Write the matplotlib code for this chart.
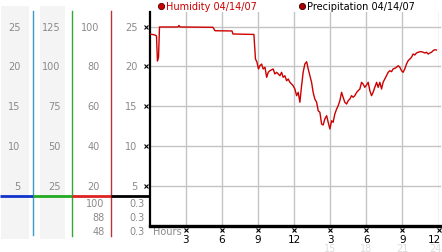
import matplotlib
matplotlib.use("Agg")
import matplotlib.pyplot as plt
from matplotlib.transforms import blended_transform_factory

# ---------------- data ----------------
hum_hours = [0.04, 0.46, 0.58, 0.66, 0.75, 0.83, 2.37, 2.45, 2.53, 5.27, 5.44, 6.85, 6.93, 8.67,
             8.80, 8.92, 9.05, 9.17, 9.31, 9.44, 9.59, 9.73, 9.86, 10.0, 10.27, 10.41, 10.56,
             10.83, 10.97, 11.10, 11.24, 11.39, 11.52, 11.66, 11.80, 11.93, 12.07, 12.22, 12.35,
             12.49, 12.63, 12.76, 12.90, 13.05, 13.18, 13.32, 13.46, 13.59, 13.73, 13.88, 14.01,
             14.15, 14.29, 14.42, 14.56, 14.71, 14.84, 14.98, 15.12, 15.25, 15.39, 15.54, 15.67,
             15.81, 15.95, 16.08, 16.22, 16.37, 16.50, 16.64, 16.78, 16.91, 17.05, 17.20, 17.33,
             17.47, 17.61, 17.74, 17.88, 18.02, 18.16, 18.30, 18.44, 18.57, 18.71, 18.86, 18.99,
             19.13, 19.27, 19.40, 19.54, 19.68, 19.82, 19.96, 20.10, 20.23, 20.37, 20.51, 20.65,
             20.79, 20.93, 21.06, 21.20, 21.34, 21.48, 21.62, 21.76, 21.89, 22.03, 22.17, 22.31,
             22.45, 22.59, 22.72, 22.86, 23.00, 23.14, 23.28, 23.42, 23.55, 23.69, 23.83]
hum_values = [24.09, 23.96, 23.84, 20.69, 21.19, 24.97, 24.97, 25.16, 24.97, 24.93, 24.50, 24.47, 24.09, 24.03,
              20.94, 20.57, 19.69, 20.10, 20.31, 19.69, 19.90, 18.64, 19.27, 19.47, 19.69, 19.06, 19.27,
              18.84, 19.27, 18.64, 18.84, 18.21, 18.43, 18.01, 17.80, 17.58, 17.17, 16.33, 16.75,
              15.50, 17.58, 19.27, 20.31, 20.60, 19.69, 18.84, 18.01, 16.75, 15.91, 15.50, 14.44,
              14.24, 12.77, 12.64, 13.40, 13.81, 12.98, 12.14, 13.18, 12.98, 14.03, 14.65, 15.07,
              15.70, 16.75, 16.13, 15.50, 15.28, 15.70, 15.91, 16.33, 16.13, 16.33, 16.75, 16.96,
              17.17, 18.01, 17.80, 17.38, 17.67, 18.01, 16.96, 16.33, 16.75, 17.38, 18.01, 17.38,
              18.01, 17.17, 18.01, 18.43, 18.84, 19.27, 19.47, 19.35, 19.69, 19.77, 19.90, 20.10,
              19.90, 19.47, 19.27, 19.69, 20.31, 20.73, 20.94, 21.16, 21.57, 21.45, 21.70, 21.79,
              21.86, 21.86, 21.79, 21.70, 21.79, 21.57, 21.70, 21.79, 21.99, 22.11, 22.08]

y_ticks = [5, 10, 15, 20, 25]
col1_labels = ["5", "10", "15", "20", "25"]
col2_labels = ["25", "50", "75", "100", "125"]
col3_labels = ["20", "40", "60", "80", "100"]
col4_labels = ["5", "10", "15", "20", "25"]
col3_extra = ["100", "88", "48"]
col4_extra = ["0.3", "0.3", "0.3"]

x_ticks = [3, 6, 9, 12, 15, 18, 21, 24]
x_labels = ["3", "6", "9", "12", "3", "6", "9", "12"]
x_labels2 = ["", "", "", "", "15", "18", "21", "24"]

legend_labels = ["Humidity 04/14/07", "Precipitation 04/14/07"]

# ---------------- figure ----------------
W, H = 442, 253
fig = plt.figure(figsize=(W / 100, H / 100), dpi=100)
fig.patch.set_facecolor("white")

# background pixel-space axes
bg = fig.add_axes([0, 0, 1, 1])
bg.set_xlim(0, W)
bg.set_ylim(H, 0)
bg.axis("off")

y0_pix, ytop_pix = 226.5, 13
x0_pix, x24_pix = 149.5, 438.5
ymax = (y0_pix - ytop_pix) / 7.95
ax = fig.add_axes([x0_pix / W, (H - y0_pix) / H, (x24_pix - x0_pix) / W, (y0_pix - ytop_pix) / H])
ax.set_xlim(0, 24)
ax.set_ylim(0, ymax)
ax.set_facecolor("none")
ax.patch.set_alpha(0)

# grid
for v in y_ticks:
    ax.axhline(v, color="#c4c4c4", lw=1.0, zorder=1, xmax=1.006, clip_on=False)
for h in x_ticks:
    ax.axvline(h, color="#c4c4c4", lw=1.0, zorder=1)

ax.plot(hum_hours, hum_values, color="#cc0000", lw=1.0, zorder=3)

for s in ["top", "right"]:
    ax.spines[s].set_visible(False)
ax.spines["left"].set_linewidth(1.6)
ax.spines["bottom"].set_linewidth(2.4)
ax.spines["bottom"].set_bounds(0, 24.1)
ax.set_xticks([])
ax.set_yticks([])

gray = "#8a8a8a"
fs = 7

# left panel gray bands
bg.add_patch(plt.Rectangle((1, 7), 28, 233, color="#f4f4f4", lw=0, zorder=0))
bg.add_patch(plt.Rectangle((40, 7), 25, 233, color="#f4f4f4", lw=0, zorder=0))

# vertical colored lines
bg.plot([33, 33], [12, 236], color="#3a9ac8", lw=1.0)
bg.plot([72, 72], [12, 237], color="#33a633", lw=1.0)
bg.plot([111, 111], [12, 237], color="#bb3333", lw=1.0)

# horizontal colored line
hy = 197
bg.plot([0, 33], [hy, hy], color="#1133cc", lw=2.0, solid_capstyle="butt")
bg.plot([33, 72], [hy, hy], color="#22aa22", lw=2.0, solid_capstyle="butt")
bg.plot([72, 111], [hy, hy], color="#dd2222", lw=2.0, solid_capstyle="butt")
bg.plot([111, 149], [hy, hy], color="black", lw=2.0, solid_capstyle="butt")

# left labels aligned with main y scale
tr = blended_transform_factory(bg.transData, ax.transData)
for v, a, b, c, d in zip(y_ticks, col1_labels, col2_labels, col3_labels, col4_labels):
    bg.text(20.5, v, a, transform=tr, ha="right", va="center", fontsize=fs, color=gray)
    bg.text(60.5, v, b, transform=tr, ha="right", va="center", fontsize=fs, color=gray)
    bg.text(99.5, v, c, transform=tr, ha="right", va="center", fontsize=fs, color=gray)
    bg.text(137.5, v, d, transform=tr, ha="right", va="center", fontsize=fs, color=gray)
    ax.plot([-0.27], [v], marker="x", ms=2.6, mew=0.8, color="black", clip_on=False)

for yy, a, b in zip([204, 218, 232], col3_extra, col4_extra):
    bg.text(104.5, yy, a, ha="right", va="center", fontsize=fs, color=gray)
    bg.text(144.5, yy, b, ha="right", va="center", fontsize=fs, color=gray)

# x tick marks and labels
trx = blended_transform_factory(ax.transData, bg.transData)
n = len(x_ticks)
for i, (h, l1, l2) in enumerate(zip(x_ticks, x_labels, x_labels2)):
    bg.plot([h], [231], marker="x", ms=2.6, mew=0.8, color="black", transform=trx, clip_on=False)
    if i == n - 1:
        bg.text(441.5, 240.5, l1, ha="right", va="center", fontsize=7.5, color="black")
        if l2:
            bg.text(441.5, 249, l2, ha="right", va="center", fontsize=7, color="#dddddd")
    else:
        bg.text(h, 240.5, l1, transform=trx, ha="center", va="center", fontsize=7.5, color="black")
        if l2:
            bg.text(h, 249, l2, transform=trx, ha="center", va="center", fontsize=7, color="#dddddd")

bg.text(153, 232.5, "Hours", ha="left", va="center", fontsize=fs, color=gray)

# legend
bg.plot([160.5], [7], marker="o", ms=4.5, color="#cc0000", mec="#550000", mew=0.6)
bg.text(166, 7, legend_labels[0], ha="left", va="center", fontsize=7, color="#cc0000")
bg.plot([302], [7], marker="o", ms=4.5, color="#aa0000", mec="#330000", mew=0.6)
bg.text(307, 7, legend_labels[1], ha="left", va="center", fontsize=7, color="black")

fig.savefig("out.png", dpi=100)
